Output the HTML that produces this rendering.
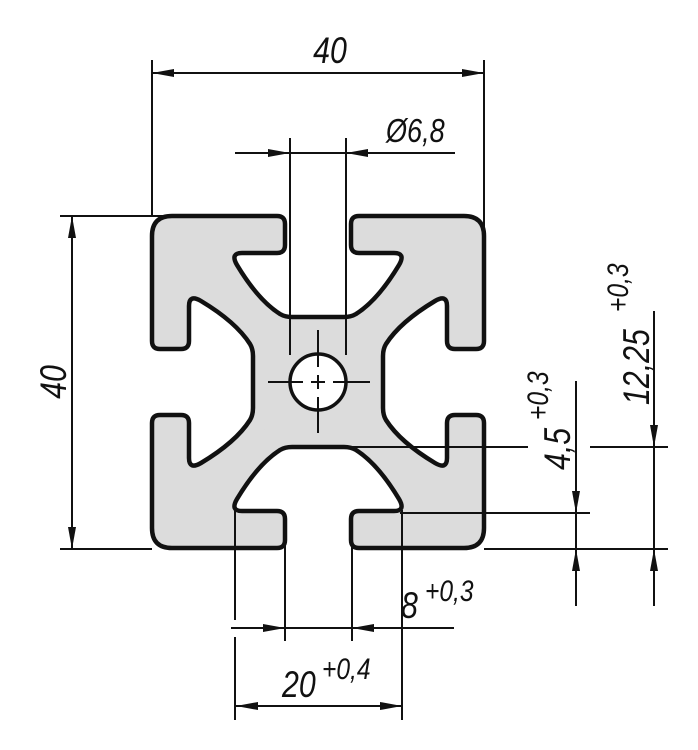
<!DOCTYPE html>
<html><head><meta charset="utf-8"><style>
html,body{margin:0;padding:0;background:#fff;}
svg{display:block;}
text{font-family:"Liberation Sans",sans-serif;font-style:italic;fill:#111;}
</style></head><body>
<svg width="698" height="750" viewBox="0 0 698 750" xmlns="http://www.w3.org/2000/svg">
<defs>
<marker id="a" viewBox="0 0 22 8" refX="22" refY="4" markerWidth="22" markerHeight="8" markerUnits="userSpaceOnUse" orient="auto-start-reverse"><path d="M0,0 L22,4 L0,8 Z" fill="#111"/></marker>
<path id="side" d="M-146,-166 L-41,-166 Q-33,-166 -33,-158 L-33,-137 Q-33,-129 -41,-129 L-76,-129 Q-88,-129 -81,-117 Q-60,-82 -38,-68 Q-33,-65 -26,-65 L26,-65 Q33,-65 38,-68 Q60,-82 81,-117 Q88,-129 76,-129 L41,-129 Q33,-129 33,-137 L33,-158 Q33,-166 41,-166 L146,-166 Q166,-166 166,-146"/>
<path id="wedge" d="M-146,-166 L-41,-166 Q-33,-166 -33,-158 L-33,-137 Q-33,-129 -41,-129 L-76,-129 Q-88,-129 -81,-117 Q-60,-82 -38,-68 Q-33,-65 -26,-65 L26,-65 Q33,-65 38,-68 Q60,-82 81,-117 Q88,-129 76,-129 L41,-129 Q33,-129 33,-137 L33,-158 Q33,-166 41,-166 L146,-166 Q166,-166 166,-146 L0,0 Z"/>
</defs>
<g transform="translate(318,382)">
<g fill="#dcdcdc" stroke="#dcdcdc" stroke-width="1">
<use href="#wedge"/><use href="#wedge" transform="rotate(90)"/><use href="#wedge" transform="rotate(180)"/><use href="#wedge" transform="rotate(270)"/>
</g>
<g fill="none" stroke="#111" stroke-width="4.5" stroke-linejoin="round">
<use href="#side"/><use href="#side" transform="rotate(90)"/><use href="#side" transform="rotate(180)"/><use href="#side" transform="rotate(270)"/>
</g>
<circle cx="0" cy="0" r="28" fill="#fff" stroke="#111" stroke-width="3.5"/>
</g>
<g stroke="#111" stroke-width="2" fill="none">
<path d="M268,382H303 M311,382H325 M333,382H370 M318,330V367 M318,375V389 M318,397V433"/>
<path d="M152,60V216 M484,60V230"/>
<line x1="152" y1="73" x2="484" y2="73" marker-start="url(#a)" marker-end="url(#a)"/>
<path d="M290,138V355 M346,138V355"/>
<line x1="235" y1="153" x2="290" y2="153" marker-end="url(#a)"/>
<line x1="455" y1="153" x2="346" y2="153" marker-end="url(#a)"/>
<line x1="290" y1="153" x2="346" y2="153"/>
<path d="M60,216H165 M60,549H152"/>
<line x1="72" y1="216" x2="72" y2="549" marker-start="url(#a)" marker-end="url(#a)"/>
<path d="M235,510V620 M235,637V720 M402,510V720 M285,540V641 M352,540V641"/>
<line x1="231" y1="628" x2="285" y2="628" marker-end="url(#a)"/>
<line x1="454" y1="628" x2="352" y2="628" marker-end="url(#a)"/>
<line x1="285" y1="628" x2="352" y2="628"/>
<line x1="236" y1="706" x2="402" y2="706" marker-start="url(#a)" marker-end="url(#a)"/>
<path d="M346,447H528 M590,447H668 M400,513H590 M484,549H668"/>
<line x1="576" y1="381" x2="576" y2="513" marker-end="url(#a)"/>
<line x1="576" y1="606" x2="576" y2="549" marker-end="url(#a)"/>
<line x1="654" y1="311" x2="654" y2="447" marker-end="url(#a)"/>
<line x1="654" y1="606" x2="654" y2="549" marker-end="url(#a)"/>
<line x1="654" y1="447" x2="654" y2="549"/>
<line x1="576" y1="513" x2="576" y2="549"/>
</g>
<text transform="translate(330,63) scale(0.82,1)" font-size="37" text-anchor="middle">40</text>
<text transform="translate(386,142) scale(0.82,1)" font-size="33">Ø6,8</text>
<text transform="translate(66,382) rotate(-90) scale(0.82,1)" font-size="37" text-anchor="middle">40</text>
<text transform="translate(401,618) scale(0.82,1)" font-size="37">8</text>
<text transform="translate(425,601) scale(0.82,1)" font-size="30">+0,3</text>
<text transform="translate(282,697) scale(0.82,1)" font-size="37">20</text>
<text transform="translate(322,679) scale(0.82,1)" font-size="30">+0,4</text>
<text transform="translate(570,470) rotate(-90) scale(0.82,1)" font-size="37">4,5</text>
<text transform="translate(548,420) rotate(-90) scale(0.82,1)" font-size="30">+0,3</text>
<text transform="translate(649,405) rotate(-90) scale(0.82,1)" font-size="37">12,25</text>
<text transform="translate(628,312) rotate(-90) scale(0.82,1)" font-size="30">+0,3</text>
</svg>
</body></html>
